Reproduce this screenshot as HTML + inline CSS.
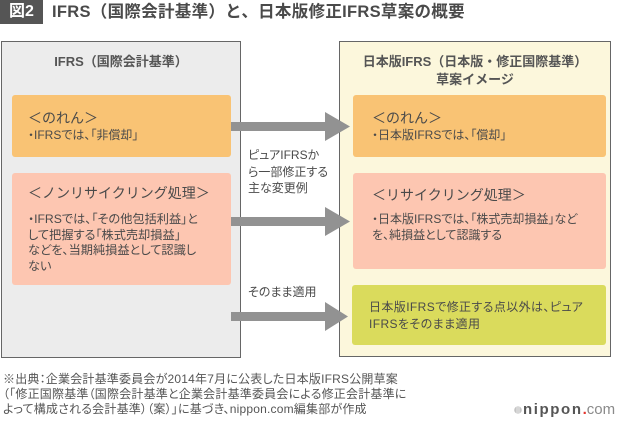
<!DOCTYPE html>
<html>
<head>
<meta charset="utf-8">
<style>
  html,body{margin:0;padding:0;}
  body{width:620px;height:421px;position:relative;background:#fff;overflow:hidden;
    font-family:"Liberation Sans","Noto Sans CJK JP",sans-serif;color:#4a4a4a;}
  .a{position:absolute;white-space:nowrap;}
  .p{font-feature-settings:"palt";}
  .box{position:absolute;box-sizing:border-box;}
</style>
</head>
<body>
<!-- Title -->
<div class="box" style="left:0;top:0;width:43px;height:24px;background:#555;"></div>
<div class="a" style="left:0;top:0;width:43px;height:24px;line-height:24px;text-align:center;color:#fff;font-weight:bold;font-size:16px;">図2</div>
<div class="a" style="left:52px;top:0;line-height:24px;font-size:16.5px;letter-spacing:0.3px;font-weight:bold;color:#4a4a4a;">IFRS（国際会計基準）と、日本版修正IFRS草案の概要</div>

<!-- Left panel -->
<div class="box" style="left:1px;top:41px;width:240px;height:317px;background:#ececec;border:1px solid #666;"></div>
<div class="a" style="left:1px;top:53px;width:240px;text-align:center;line-height:18px;font-size:13px;font-weight:bold;color:#555;">IFRS（国際会計基準）</div>

<div class="box" style="left:12px;top:95px;width:219px;height:62px;background:#f9c374;border-radius:3px;"></div>
<div class="a" style="left:28px;top:109px;line-height:18px;font-size:14px;color:#4a4a4a;">＜のれん＞</div>
<div class="a p" style="left:28px;top:127px;line-height:16px;font-size:12px;color:#4a4a4a;">・IFRSでは、「非償却」</div>

<div class="box" style="left:12px;top:173px;width:219px;height:112px;background:#fdc6b1;border-radius:3px;"></div>
<div class="a" style="left:28px;top:184px;line-height:18px;font-size:14px;color:#4a4a4a;">＜ノンリサイクリング処理＞</div>
<div class="a p" style="left:28px;top:212px;line-height:15.7px;font-size:12.2px;color:#4a4a4a;">・IFRSでは、「その他包括利益」と<br>して把握する「株式売却損益」<br>などを、当期純損益として認識し<br>ない</div>

<!-- Right panel -->
<div class="box" style="left:339px;top:41px;width:272px;height:316px;background:#fcf7dc;border:1px solid #666;"></div>
<div class="a" style="left:339px;top:53px;width:272px;text-align:center;line-height:18px;font-size:13px;font-weight:bold;color:#555;">日本版IFRS（日本版・修正国際基準）<br>草案イメージ</div>

<div class="box" style="left:353px;top:95px;width:253px;height:62px;background:#f9c374;border-radius:3px;"></div>
<div class="a" style="left:372px;top:109px;line-height:18px;font-size:14px;color:#4a4a4a;">＜のれん＞</div>
<div class="a p" style="left:372px;top:127px;line-height:16px;font-size:12px;color:#4a4a4a;">・日本版IFRSでは、「償却」</div>

<div class="box" style="left:353px;top:173px;width:253px;height:96px;background:#fdc6b1;border-radius:3px;"></div>
<div class="a" style="left:372px;top:186px;line-height:18px;font-size:14px;color:#4a4a4a;">＜リサイクリング処理＞</div>
<div class="a p" style="left:372px;top:212px;line-height:15.7px;font-size:12px;color:#4a4a4a;">・日本版IFRSでは、「株式売却損益」など<br>を、純損益として認識する</div>

<div class="box" style="left:352px;top:285px;width:254px;height:60px;background:#dadb5c;border-radius:3px;"></div>
<div class="a p" style="left:369px;top:299px;line-height:17px;font-size:12px;letter-spacing:0.4px;color:#4a4a4a;">日本版IFRSで修正する点以外は、ピュア<br>IFRSをそのまま適用</div>

<!-- Middle labels -->
<div class="a p" style="left:248px;top:147px;line-height:16.5px;font-size:12px;color:#4a4a4a;">ピュアIFRSか<br>ら一部修正する<br>主な変更例</div>
<div class="a p" style="left:248px;top:284px;line-height:16px;font-size:12px;color:#4a4a4a;">そのまま適用</div>

<!-- Arrows -->
<svg width="620" height="421" style="position:absolute;left:0;top:0;" xmlns="http://www.w3.org/2000/svg">
  <g fill="#929292">
    <rect x="231" y="122" width="96" height="9"/>
    <polygon points="325,112 350,126.5 325,141"/>
    <rect x="231" y="217" width="96" height="9"/>
    <polygon points="325,207 350,221.5 325,236"/>
    <rect x="231" y="312" width="96" height="9"/>
    <polygon points="325,302 348,316.5 325,331"/>
  </g>
  <g>
    <circle cx="518" cy="410" r="3.8" fill="#c4c4c4"/>
    <line x1="517" y1="406.5" x2="517" y2="413.5" stroke="#fff" stroke-width="0.6"/>
    <line x1="519" y1="406.5" x2="519" y2="413.5" stroke="#fff" stroke-width="0.6"/>
  </g>
</svg>

<!-- Footnote -->
<div class="a p" style="left:3px;top:372px;line-height:15px;font-size:12px;letter-spacing:0.2px;color:#555;">※出典：企業会計基準委員会が2014年7月に公表した日本版IFRS公開草案<br>（「修正国際基準（国際会計基準と企業会計基準委員会による修正会計基準に<br>よって構成される会計基準）（案）」に基づき、nippon.com編集部が作成</div>

<!-- Logo -->
<div class="a" style="left:523px;top:401px;line-height:18px;font-size:15px;font-family:'Liberation Sans',sans-serif;"><span style="font-weight:bold;color:#555;letter-spacing:1.6px;">nippon</span><span style="font-weight:bold;color:#e4322b;">.</span><span style="color:#8a8a8a;">com</span></div>
</body>
</html>
